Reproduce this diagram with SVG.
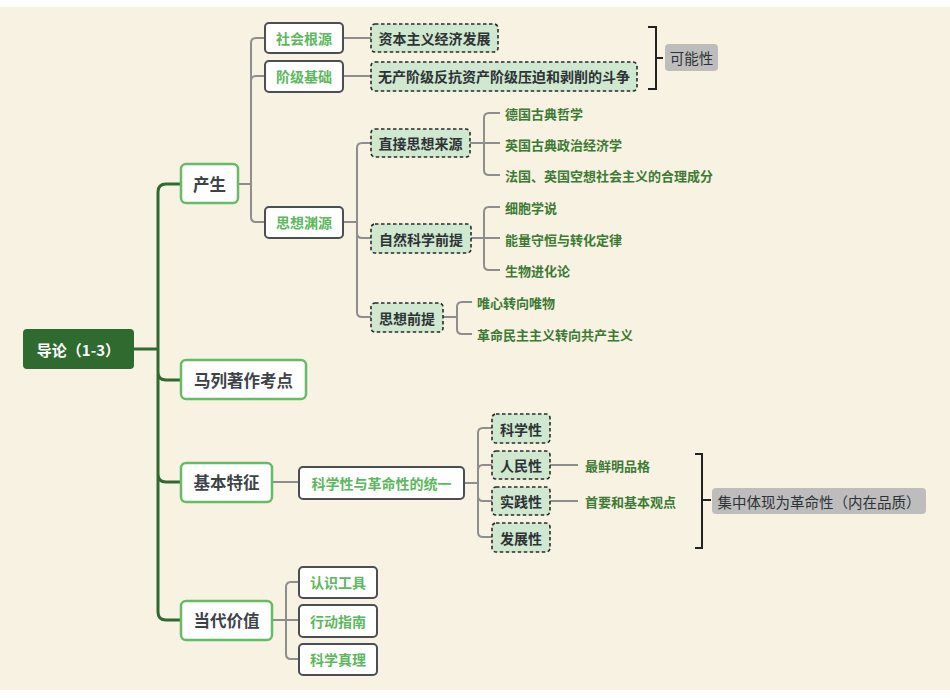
<svg xmlns="http://www.w3.org/2000/svg" width="950" height="698" viewBox="0 0 950 698">
<style>
.f{font-family:"Noto Sans CJK SC","Noto Sans",sans-serif;dominant-baseline:central}
.c{text-anchor:middle}
.b{font-weight:bold}
.l1{fill:#fff;stroke:#66BB66;stroke-width:2.5}
.l1t{fill:#3D4349;font-size:16.5px}
.l2{fill:#fff;stroke:#4A4F55;stroke-width:2}
.l2t{fill:#5CB85C;font-size:14px}
.d{fill:#CFE8CF;stroke:#2A2A2A;stroke-width:1.6;stroke-dasharray:3.5 2.5}
.dt{fill:#2E3236;font-size:14px}
.leaf{fill:#3D7A34;font-size:13px}
.g{fill:#BDBDBD}
.gt{fill:#2E3236;font-size:14.5px}
.trunk{fill:none;stroke:#2F6B2F;stroke-width:3}
.con{fill:none;stroke:#8E8E8E;stroke-width:2}
.br{fill:none;stroke:#222;stroke-width:2}
</style>
<rect x="0" y="0" width="950" height="698" fill="#fff"/>
<rect x="0" y="7" width="950" height="683" fill="#F8F2E2"/>
<g id="connectors">
<path class="trunk" d="M134 349 H158 M158 349 V192 Q158 184 166 184 H181 M158 349 V372 Q158 380 166 380 H181 M158 349 V474 Q158 482 166 482 H181 M158 349 V612 Q158 620 166 620 H181"/>
<path class="con" d="M238 184 H251 M251 184 V43 Q251 38 256 38 H265 M251 184 V81 Q251 76 256 76 H265 M251 184 V217 Q251 222 256 222 H265"/>
<path class="con" d="M343 38 H371 M343 76 H371"/>
<path class="con" d="M343 222 H357 M357 222 V148 Q357 143 362 143 H371 M357 222 V233 Q357 238 362 238 H371 M357 222 V312 Q357 317 362 317 H371"/>
<path class="con" d="M470 143 H484 M484 143 V118 Q484 113 489 113 H500 M484 143 H500 M484 143 V170 Q484 175 489 175 H500"/>
<path class="con" d="M471 238 H484 M484 238 V212 Q484 207 489 207 H500 M484 238 H500 M484 238 V265 Q484 270 489 270 H500"/>
<path class="con" d="M443 317 H457 M457 317 V307 Q457 302 462 302 H472 M457 317 V329 Q457 334 462 334 H472"/>
<path class="con" d="M272 482 H299 M464 483 H478 M478 483 V433 Q478 428 483 428 H492 M478 483 V470 Q478 465 483 465 H492 M478 483 V496 Q478 501 483 501 H492 M478 483 V532 Q478 537 483 537 H492"/>
<path class="con" d="M550 465 H578 M550 501 H578"/>
<path class="con" d="M272 620 H286 M286 620 V587 Q286 582 291 582 H299 M286 620 H299 M286 620 V654 Q286 659 291 659 H299"/>
<path class="br" d="M648 27 H656 V89 H648 M656 58 H663"/>
<path class="br" d="M695 454 H702 V548 H695 M702 500 H711"/>
</g>
<g id="root"><rect x="23" y="329" width="111" height="40" rx="4" fill="#2F6B2F"/><text class="f c b" x="78.5" y="349" fill="#fff" font-size="15">导论（1-3）</text></g>
<g id="chansheng"><rect class="l1" x="181" y="164" width="57" height="39" rx="5"/><text class="f c b l1t" x="209.5" y="184">产生</text></g>
<g id="malie"><rect class="l1" x="181" y="360" width="125" height="39" rx="5"/><text class="f c b l1t" x="243.5" y="380">马列著作考点</text></g>
<g id="jiben"><rect class="l1" x="181" y="463" width="91" height="39" rx="5"/><text class="f c b l1t" x="226.5" y="482">基本特征</text></g>
<g id="dangdai"><rect class="l1" x="181" y="601" width="91" height="39" rx="5"/><text class="f c b l1t" x="226.5" y="620">当代价值</text></g>
<g id="shehui"><rect class="l2" x="265" y="23" width="78" height="30" rx="4"/><text class="f c b l2t" x="304" y="38">社会根源</text></g>
<g id="jieji"><rect class="l2" x="265" y="61" width="78" height="31" rx="4"/><text class="f c b l2t" x="304" y="76">阶级基础</text></g>
<g id="sixiang"><rect class="l2" x="265" y="207" width="78" height="31" rx="4"/><text class="f c b l2t" x="304" y="222">思想渊源</text></g>
<g id="ziben"><rect class="d" x="371" y="24" width="127" height="28" rx="4"/><text class="f c b dt" x="434.5" y="38">资本主义经济发展</text></g>
<g id="wuchan"><rect class="d" x="371" y="62" width="266" height="29" rx="4"/><text class="f c b dt" x="504" y="76">无产阶级反抗资产阶级压迫和剥削的斗争</text></g>
<g id="kenengxing"><rect class="g" x="665" y="44" width="53" height="27" rx="4"/><text class="f c gt" x="691.5" y="57.5">可能性</text></g>
<g id="zhijie"><rect class="d" x="371" y="129" width="99" height="28" rx="4"/><text class="f c b dt" x="420.5" y="143">直接思想来源</text></g>
<g id="ziran"><rect class="d" x="371" y="224" width="100" height="29" rx="4"/><text class="f c b dt" x="421" y="238.5">自然科学前提</text></g>
<g id="sxqt"><rect class="d" x="371" y="303" width="72" height="29" rx="4"/><text class="f c b dt" x="407" y="317.5">思想前提</text></g>
<g id="leaf1"><text class="f b leaf" x="505" y="113">德国古典哲学</text></g>
<g id="leaf2"><text class="f b leaf" x="505" y="144">英国古典政治经济学</text></g>
<g id="leaf3"><text class="f b leaf" x="505" y="175">法国、英国空想社会主义的合理成分</text></g>
<g id="leaf4"><text class="f b leaf" x="505" y="207">细胞学说</text></g>
<g id="leaf5"><text class="f b leaf" x="505" y="239">能量守恒与转化定律</text></g>
<g id="leaf6"><text class="f b leaf" x="505" y="270">生物进化论</text></g>
<g id="leaf7"><text class="f b leaf" x="477" y="302">唯心转向唯物</text></g>
<g id="leaf8"><text class="f b leaf" x="477" y="334">革命民主主义转向共产主义</text></g>
<g id="tongyi"><rect class="l2" x="299" y="467" width="165" height="32" rx="4"/><text class="f c b l2t" x="381.5" y="483" font-size="14.5">科学性与革命性的统一</text></g>
<g id="kexue"><rect class="d" x="492" y="414" width="58" height="29" rx="4"/><text class="f c b dt" x="521" y="428.5">科学性</text></g>
<g id="renmin"><rect class="d" x="492" y="451" width="58" height="28" rx="4"/><text class="f c b dt" x="521" y="465">人民性</text></g>
<g id="shijian"><rect class="d" x="492" y="487" width="58" height="28" rx="4"/><text class="f c b dt" x="521" y="501">实践性</text></g>
<g id="fazhan"><rect class="d" x="492" y="523" width="58" height="29" rx="4"/><text class="f c b dt" x="521" y="537.5">发展性</text></g>
<g id="leaf9"><text class="f b leaf" x="585" y="465">最鲜明品格</text></g>
<g id="leaf10"><text class="f b leaf" x="585" y="501">首要和基本观点</text></g>
<g id="jizhong"><rect class="g" x="712" y="488" width="214" height="26" rx="4"/><text class="f c gt" x="819" y="501">集中体现为革命性（内在品质）</text></g>
<g id="renshi"><rect class="l2" x="299" y="567" width="78" height="31" rx="4"/><text class="f c b l2t" x="338" y="582" font-size="14.5">认识工具</text></g>
<g id="xingdong"><rect class="l2" x="299" y="605" width="78" height="32" rx="4"/><text class="f c b l2t" x="338" y="621" font-size="14.5">行动指南</text></g>
<g id="zhenli"><rect class="l2" x="299" y="644" width="78" height="31" rx="4"/><text class="f c b l2t" x="338" y="659" font-size="14.5">科学真理</text></g>
</svg>
